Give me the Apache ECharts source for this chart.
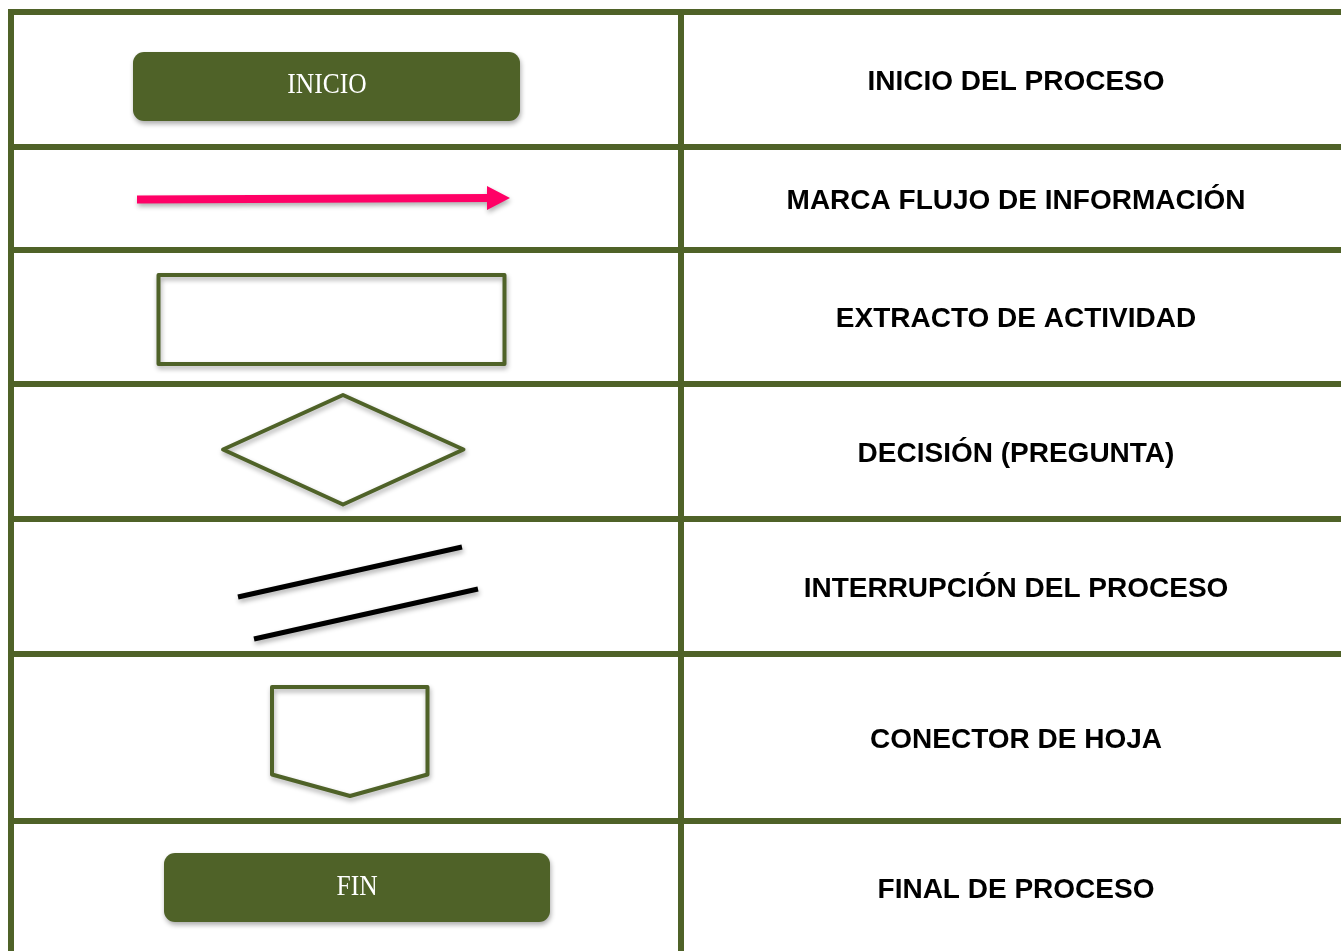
<!DOCTYPE html>
<html>
<head>
<meta charset="utf-8">
<script src="https://cdn.jsdelivr.net/npm/echarts@6/dist/echarts.min.js"></script>
<style>
html,body{margin:0;padding:0;background:#ffffff;}
#c{width:1341px;height:951px;}
</style>
</head>
<body>
<div id="c"></div>
<script>
// ---------- DATA ----------
const categories = [
  'INICIO DEL PROCESO',
  'MARCA FLUJO DE INFORMACIÓN',
  'EXTRACTO DE ACTIVIDAD',
  'DECISIÓN (PREGUNTA)',
  'INTERRUPCIÓN DEL PROCESO',
  'CONECTOR DE HOJA',
  'FINAL DE PROCESO'
];
const symbolKinds = ['terminal', 'flow', 'process', 'decision', 'interrupt', 'connector', 'terminal'];
const symbolLabels = ['INICIO', '', '', '', '', '', 'FIN'];
const rowEdges = [12, 147, 250, 384, 519, 654, 821, 955];
const columnEdges = [11, 681];

// ---------- LAYOUT / STYLE ----------
const GREEN = '#4F6228';
const PINK = '#FF0066';
const SHADOW = {shadowColor: 'rgba(0,0,0,0.32)', shadowBlur: 5, shadowOffsetX: 1, shadowOffsetY: 3};
const LINE_W = 6;
const TEXT_X = 1016;
const TEXT_DY = 2.5;
const CANVAS_W = 1341, CANVAS_H = 951;

// symbol geometry per row (pixel space of the hidden axes)
const symbolGeom = [
  {x: 133, y: 52, w: 387, h: 69, tx: 327, ty: 85.5},
  {pts: [[137, 195.5], [487, 194], [487, 186], [510, 198], [487, 210], [487, 202], [137, 203.5]]},
  {x: 158.5, y: 275, w: 346, h: 89},
  {pts: [[223, 449.5], [343, 395], [463.5, 449.5], [343, 504.5]]},
  {segs: [[[238, 597], [462, 547]], [[254, 639], [478, 589]]]},
  {pts: [[272, 687], [427.5, 687], [427.5, 774.5], [350, 796], [272, 774.5]]},
  {x: 164, y: 853, w: 386, h: 69, tx: 357, ty: 887}
];

const chart = echarts.init(document.getElementById('c'), null, {renderer: 'canvas'});

function P(api, p) { return api.coord(p); }

function renderGrid(params, api) {
  const kind = api.value(0);
  const v = api.value(1);
  let a, b;
  if (kind === 0) { // horizontal
    a = P(api, [8, v]); b = P(api, [CANVAS_W, v]);
  } else {
    a = P(api, [v, 9]); b = P(api, [v, CANVAS_H]);
  }
  return {
    type: 'line',
    shape: {x1: a[0], y1: a[1], x2: b[0], y2: b[1]},
    style: {stroke: GREEN, lineWidth: LINE_W, lineCap: 'butt'}
  };
}

function renderRow(params, api) {
  const i = api.value(0);
  const kind = symbolKinds[i];
  const g = symbolGeom[i];
  const children = [];
  const rowCenter = (rowEdges[i] + rowEdges[i + 1]) / 2;

  if (kind === 'terminal') {
    const p0 = P(api, [g.x, g.y]);
    const p1 = P(api, [g.x + g.w, g.y + g.h]);
    children.push({
      type: 'rect',
      shape: {x: p0[0], y: p0[1], width: p1[0] - p0[0], height: p1[1] - p0[1], r: 11},
      style: Object.assign({fill: GREEN}, SHADOW)
    });
    const t = P(api, [g.tx, g.ty]);
    children.push({
      type: 'text', x: t[0], y: t[1], scaleX: 0.88,
      style: {
        x: 0, y: 0, text: symbolLabels[i], fill: '#ffffff',
        font: '29px "Liberation Serif"', align: 'center', verticalAlign: 'middle'
      }
    });
  } else if (kind === 'flow') {
    children.push({
      type: 'polygon',
      shape: {points: g.pts.map(p => P(api, p))},
      style: Object.assign({fill: PINK}, SHADOW)
    });
  } else if (kind === 'process') {
    const p0 = P(api, [g.x, g.y]);
    const p1 = P(api, [g.x + g.w, g.y + g.h]);
    children.push({
      type: 'rect',
      shape: {x: p0[0], y: p0[1], width: p1[0] - p0[0], height: p1[1] - p0[1]},
      style: Object.assign({fill: null, stroke: GREEN, lineWidth: 4, lineJoin: 'round'}, SHADOW)
    });
  } else if (kind === 'decision' || kind === 'connector') {
    children.push({
      type: 'polygon',
      shape: {points: g.pts.map(p => P(api, p))},
      style: Object.assign({fill: null, stroke: GREEN, lineWidth: 4, lineJoin: 'round'}, SHADOW)
    });
  } else if (kind === 'interrupt') {
    g.segs.forEach(s => {
      const a = P(api, s[0]), b = P(api, s[1]);
      children.push({
        type: 'line',
        shape: {x1: a[0], y1: a[1], x2: b[0], y2: b[1]},
        style: Object.assign({stroke: '#000000', lineWidth: 5, lineCap: 'butt'}, SHADOW)
      });
    });
  }

  const tp = P(api, [TEXT_X, rowCenter + TEXT_DY]);
  children.push({
    type: 'text', x: tp[0], y: tp[1],
    style: {
      text: categories[i], fill: '#000000',
      font: 'bold 28px "Liberation Sans", Arial, sans-serif',
      align: 'center', verticalAlign: 'middle'
    }
  });
  return {type: 'group', children: children};
}

const gridData = rowEdges.map(y => [0, y]).concat(columnEdges.map(x => [1, x]));
const rowData = categories.map((c, i) => [i]);

chart.setOption({
  animation: false,
  grid: {left: 0, right: 0, top: 0, bottom: 0, containLabel: false},
  xAxis: {type: 'value', min: 0, max: CANVAS_W, show: false},
  yAxis: {type: 'value', min: 0, max: CANVAS_H, inverse: true, show: false},
  series: [
    {type: 'custom', name: 'symbols', data: rowData, renderItem: renderRow, clip: false, silent: true, z: 2},
    {type: 'custom', name: 'table', data: gridData, renderItem: renderGrid, clip: false, silent: true, z: 3}
  ]
});
</script>
</body>
</html>
